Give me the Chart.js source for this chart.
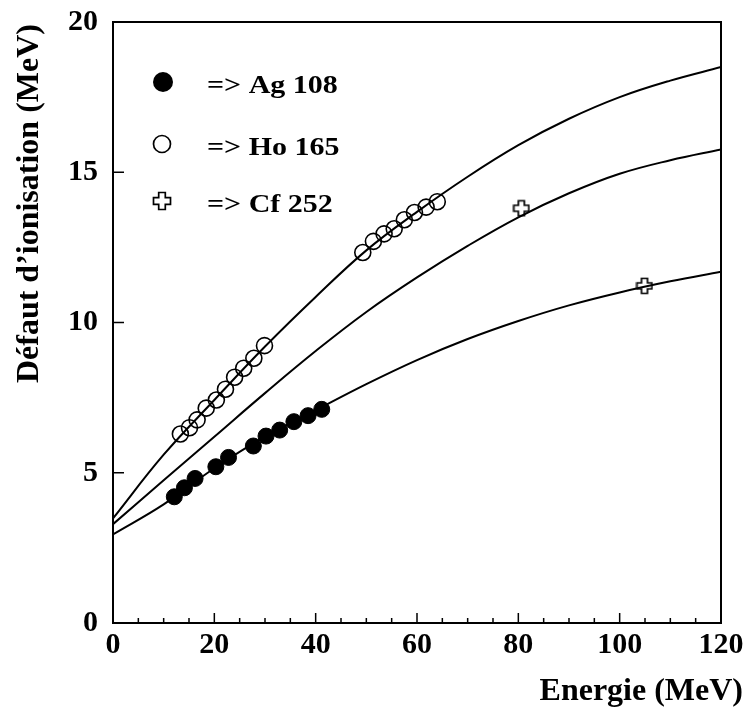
<!DOCTYPE html>
<html>
<head>
<meta charset="utf-8">
<script src="https://cdn.jsdelivr.net/npm/chart.js@4.4.0/dist/chart.umd.min.js"></script>
<style>
  body { margin: 0; background: #fff; }
  #wrap { width: 745px; height: 709px; position: relative; }
</style>
</head>
<body>
<div id="wrap"><canvas id="chart"></canvas></div>
<script>
// theoretical curves, sampled every 10 MeV
const energyGrid = [0, 10, 20, 30, 40, 50, 60, 70, 80, 90, 100, 110, 120];
const curveAg = [2.95, 3.95, 5.15, 6.2, 7.08, 7.95, 8.75, 9.45, 10.05, 10.57, 11.0, 11.37, 11.69];
const curveCf = [3.29, 4.75, 6.2, 7.65, 9.05, 10.35, 11.5, 12.55, 13.5, 14.3, 14.95, 15.4, 15.76];
const curveHo = [3.48, 5.6, 7.42, 9.2, 10.85, 12.4, 13.68, 14.85, 15.9, 16.78, 17.5, 18.05, 18.5];

// measured points
const agX = [12.1, 14.1, 16.2, 20.3, 22.8, 27.7, 30.2, 32.9, 35.7, 38.5, 41.2];
const agY = [4.20, 4.50, 4.81, 5.20, 5.51, 5.89, 6.22, 6.42, 6.70, 6.90, 7.11];
const hoX = [13.3, 15.1, 16.6, 18.4, 20.4, 22.2, 24.0, 25.8, 27.8, 29.9, 49.3, 51.4, 53.5, 55.5, 57.5, 59.5, 61.8, 64.0];
const hoY = [6.29, 6.50, 6.76, 7.15, 7.42, 7.78, 8.18, 8.48, 8.81, 9.23, 12.33, 12.70, 12.95, 13.12, 13.42, 13.66, 13.84, 14.02];
const cfX = [80.6, 104.9];
const cfY = [13.80, 11.22];

const xTicks = [0, 20, 40, 60, 80, 100, 120];
const yTicks = [0, 5, 10, 15, 20];
const legendLabels = ['=> Ag 108', '=> Ho 165', '=> Cf 252'];
const xTitle = 'Energie (MeV)';
const yTitle = 'Défaut d\u2019ionisation (MeV)';

const FONT = '"Liberation Serif", "Times New Roman", serif';

function pairs(xs, ys) {
    return xs.map((v, i) => ({ x: v, y: ys[i] }));
}

// outlined plus sign used for Cf 252
function makeCross(size, a, L) {
    const c = document.createElement('canvas');
    c.width = size; c.height = size;
    const g = c.getContext('2d');
    const m = size / 2;
    g.beginPath();
    g.moveTo(m - a, m - L); g.lineTo(m + a, m - L); g.lineTo(m + a, m - a);
    g.lineTo(m + L, m - a); g.lineTo(m + L, m + a); g.lineTo(m + a, m + a);
    g.lineTo(m + a, m + L); g.lineTo(m - a, m + L); g.lineTo(m - a, m + a);
    g.lineTo(m - L, m + a); g.lineTo(m - L, m - a); g.lineTo(m - a, m - a);
    g.closePath();
    g.fillStyle = '#fff';
    g.fill();
    g.lineWidth = 1.7;
    g.strokeStyle = '#000';
    g.stroke();
    return c;
}
const crossImg = makeCross(18, 3, 7.5);
const crossLegend = makeCross(20, 3.3, 8.5);

function curve(ys) {
    return {
        data: pairs(energyGrid, ys),
        showLine: true,
        borderColor: '#000',
        borderWidth: 2,
        pointRadius: 0,
        tension: 0.4,
        fill: false
    };
}

const framePlugin = {
    id: 'frame',
    afterDatasetsDraw(chart) {
        const { ctx, chartArea: a, scales: { x, y } } = chart;
        ctx.save();
        ctx.strokeStyle = '#000';
        ctx.lineWidth = 2;
        ctx.strokeRect(a.left, a.top, a.right - a.left, a.bottom - a.top);

        // inward tick marks
        ctx.lineWidth = 1.5;
        ctx.beginPath();
        for (let v = 0; v <= 120; v += 5) {
            const px = x.getPixelForValue(v);
            const len = v % 20 === 0 ? 10 : 5;
            ctx.moveTo(px, a.bottom);
            ctx.lineTo(px, a.bottom - len);
        }
        yTicks.forEach(v => {
            const py = y.getPixelForValue(v);
            ctx.moveTo(a.left, py);
            ctx.lineTo(a.left + 11, py);
        });
        ctx.stroke();

        // axis titles
        ctx.fillStyle = '#000';
        ctx.font = 'bold 32px ' + FONT;
        ctx.textAlign = 'right';
        ctx.textBaseline = 'alphabetic';
        ctx.fillText(xTitle, 743, 700);

        ctx.save();
        ctx.translate(30, a.top + 2);
        ctx.rotate(-Math.PI / 2);
        ctx.textBaseline = 'middle';
        ctx.fillText(yTitle, 0, 0);
        ctx.restore();

        // legend inside the plot
        const rows = [93, 155, 212];
        const markerY = [82, 144, 201];
        rows.forEach((by, i) => {
            const mx = 162;
            if (i === 0) {
                ctx.beginPath();
                ctx.arc(mx + 1, markerY[i], 10, 0, Math.PI * 2);
                ctx.fillStyle = '#000';
                ctx.fill();
            } else if (i === 1) {
                ctx.beginPath();
                ctx.arc(mx, markerY[i], 8.5, 0, Math.PI * 2);
                ctx.fillStyle = '#fff';
                ctx.fill();
                ctx.lineWidth = 1.7;
                ctx.stroke();
            } else {
                ctx.drawImage(crossLegend, mx - 10, markerY[i] - 10);
            }
            ctx.save();
            ctx.translate(207, by);
            ctx.scale(1.2, 1);
            ctx.fillStyle = '#000';
            ctx.font = 'bold 25px ' + FONT;
            ctx.textAlign = 'left';
            ctx.textBaseline = 'alphabetic';
            ctx.fillText(legendLabels[i], 0, 0);
            ctx.restore();
        });
        ctx.restore();
    }
};

const tickFont = { family: FONT, size: 30, weight: 'bold' };

new Chart(document.getElementById('chart'), {
    type: 'scatter',
    data: {
        datasets: [
            curve(curveAg),
            curve(curveCf),
            curve(curveHo),
            {
                label: 'Ag 108',
                data: pairs(agX, agY),
                pointStyle: 'circle',
                pointRadius: 8,
                backgroundColor: '#000',
                borderColor: '#000',
                borderWidth: 1
            },
            {
                label: 'Ho 165',
                data: pairs(hoX, hoY),
                pointStyle: 'circle',
                pointRadius: 8,
                backgroundColor: 'rgba(255,255,255,0)',
                borderColor: '#000',
                borderWidth: 1.6
            },
            {
                label: 'Cf 252',
                data: pairs(cfX, cfY),
                pointStyle: crossImg,
                pointRadius: 9
            }
        ]
    },
    options: {
        responsive: true,
        maintainAspectRatio: false,
        animation: false,
        layout: { padding: { top: 22, right: 24, left: 0, bottom: 0 } },
        plugins: {
            legend: { display: false },
            tooltip: { enabled: false }
        },
        scales: {
            x: {
                type: 'linear',
                min: 0,
                max: 120,
                afterBuildTicks: s => { s.ticks = xTicks.map(v => ({ value: v })); },
                afterFit: s => { s.height = 86; s.paddingLeft = 0; s.paddingRight = 0; },
                ticks: { font: tickFont, color: '#000', padding: 4, maxRotation: 0 },
                grid: { drawOnChartArea: false, drawTicks: false },
                border: { display: true, color: '#000', width: 2 }
            },
            y: {
                type: 'linear',
                min: 0,
                max: 20,
                afterBuildTicks: s => { s.ticks = yTicks.map(v => ({ value: v })); },
                afterFit: s => { s.width = 113; s.paddingTop = 0; s.paddingBottom = 0; },
                ticks: { font: tickFont, color: '#000', padding: 15 },
                grid: { drawOnChartArea: false, drawTicks: false },
                border: { display: true, color: '#000', width: 2 }
            }
        }
    },
    plugins: [framePlugin]
});
</script>
</body>
</html>
